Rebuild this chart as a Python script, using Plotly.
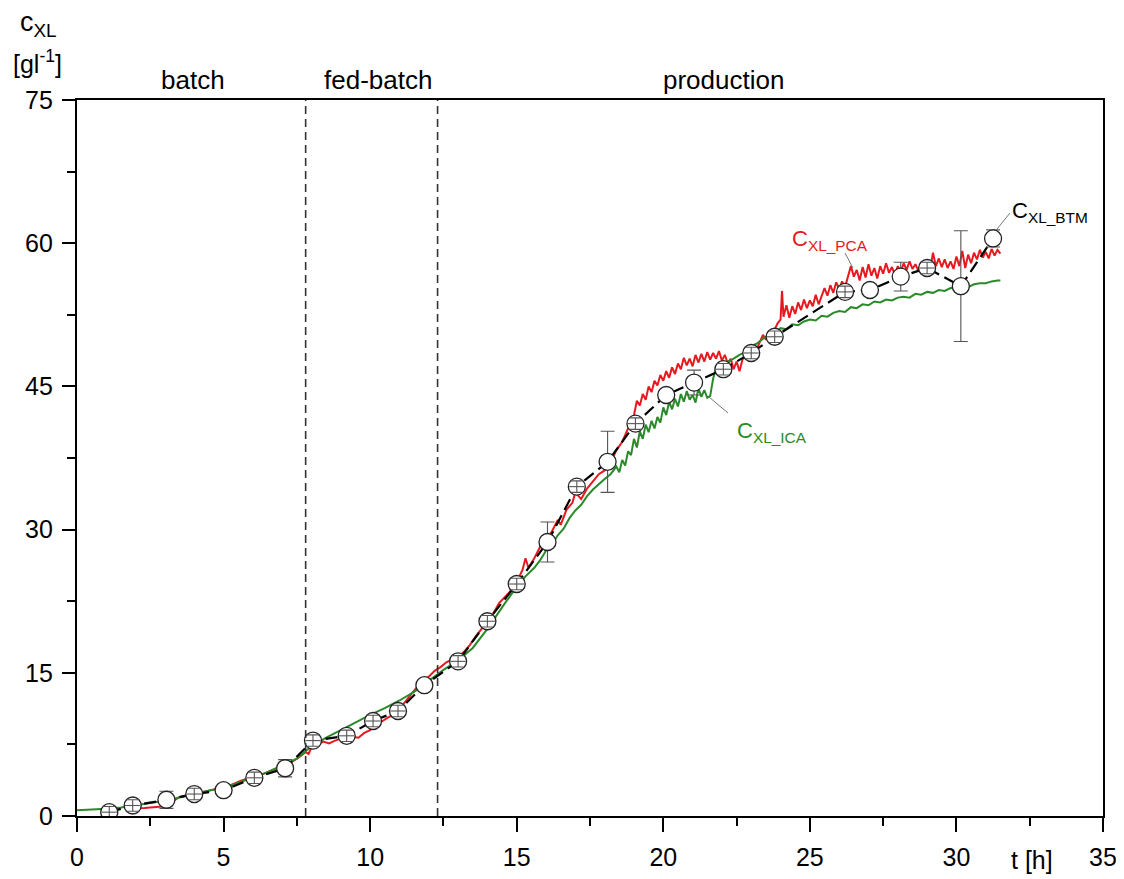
import plotly.graph_objects as go

# ---------------- data ----------------
btm_t = [1.1, 1.9, 3.05, 4.0, 5.0, 6.05, 7.1, 8.05, 9.2, 10.1, 10.95, 11.85, 13.0, 14.0, 15.0,
         16.05, 17.05, 18.1, 19.05, 20.1, 21.05, 22.05, 23.0, 23.8, 26.2, 27.05, 28.1, 29.0, 30.15, 31.25]
btm_y = [0.4, 1.1, 1.7, 2.3, 2.7, 4.0, 5.0, 7.9, 8.4, 9.95, 11.0, 13.7, 16.2, 20.4, 24.3,
         28.7, 34.5, 37.1, 41.1, 44.1, 45.4, 46.8, 48.5, 50.2, 54.9, 55.1, 56.5, 57.4, 55.5, 60.5]
btm_err = [0.6, 0.6, 0.9, 0.6, 0.0, 0.6, 0.9, 0.6, 0.6, 0.6, 0.6, 0.0, 0.6, 0.6, 0.6,
           2.1, 0.6, 3.2, 0.6, 0.0, 1.3, 0.6, 0.6, 0.6, 0.6, 0.0, 1.5, 0.6, 5.8, 0.9]

pca_t = [1.8, 2.0, 2.3, 2.6, 2.9, 3.2, 3.5, 3.8, 4.1, 4.4, 4.7, 5.0, 5.3, 5.6, 5.9, 6.2, 6.5, 6.8,
         7.1, 7.4, 7.6, 7.8, 7.9, 8.0, 8.2, 8.4, 8.6, 8.8, 9.0, 9.2, 9.4, 9.6, 9.8, 10.0, 10.2,
         10.4, 10.6, 10.8, 11.0, 11.2, 11.4, 11.6, 11.8, 12.0, 12.2, 12.4, 12.6, 12.8, 13.0, 13.2,
         13.4, 13.6, 13.8, 14.0, 14.2, 14.4, 14.6, 14.8, 15.0, 15.2, 15.3, 15.4, 15.6, 15.8, 16.0,
         16.2, 16.4, 16.5, 16.7, 16.9, 17.0, 17.2, 17.4, 17.6, 17.8, 18.0, 18.2, 18.4, 18.6, 18.8,
         19.0, 19.1, 19.2, 19.3, 19.4, 19.5, 19.6, 19.7, 19.8, 19.9, 20.0, 20.1, 20.2, 20.3, 20.4,
         20.5, 20.6, 20.7, 20.8, 20.9, 21.0, 21.1, 21.2, 21.3, 21.4, 21.5, 21.6, 21.7, 21.8, 21.9,
         22.0, 22.1, 22.2, 22.3, 22.4, 22.5, 22.6, 22.7, 22.8, 22.9, 23.0, 23.1, 23.2, 23.3, 23.4,
         23.5, 23.6, 23.7, 23.8, 23.9, 24.0, 24.05, 24.1, 24.2, 24.3, 24.4, 24.5, 24.6, 24.7, 24.8,
         24.9, 25.0, 25.1, 25.2, 25.3, 25.4, 25.5, 25.6, 25.7, 25.8, 25.9, 26.0, 26.1, 26.2, 26.3,
         26.4, 26.5, 26.6, 26.7, 26.8, 26.9, 27.0, 27.1, 27.2, 27.3, 27.4, 27.5, 27.6, 27.7, 27.8,
         27.9, 28.0, 28.1, 28.2, 28.3, 28.4, 28.5, 28.6, 28.7, 28.8, 28.9, 29.0, 29.1, 29.2, 29.3,
         29.4, 29.5, 29.6, 29.7, 29.8, 29.9, 30.0, 30.1, 30.2, 30.3, 30.4, 30.5, 30.6, 30.7, 30.8,
         30.9, 31.0, 31.1, 31.2, 31.3, 31.4, 31.5]
pca_y = [0.7, 0.8, 0.85, 0.9, 1.0, 1.4, 2.0, 2.2, 2.4, 2.6, 2.8, 3.0, 3.3, 3.7, 4.0, 4.2, 4.6, 5.0,
         5.4, 5.8, 6.2, 6.7, 6.5, 7.2, 7.5, 7.8, 7.6, 7.9, 8.1, 8.0, 8.3, 8.2, 8.7, 9.0, 9.6,
         9.9, 10.3, 10.6, 11.2, 12.0, 12.8, 13.6, 14.3, 14.6, 15.2, 15.6, 16.1, 16.4, 16.6, 17.2,
         17.9, 18.8, 19.6, 20.5, 21.2, 22.3, 22.9, 23.6, 24.5, 25.8, 27.0, 26.0, 27.0, 28.2, 29.0,
         29.8, 31.0, 30.5, 32.1, 32.8, 33.9, 33.2, 34.3, 35.1, 35.8, 36.2, 37.0, 38.3, 39.2, 40.6,
         42.0, 43.5, 43.0, 44.2, 43.6, 45.0, 44.4, 45.6, 45.1, 46.2, 45.6, 46.6, 45.9, 47.0, 46.3,
         47.4, 46.8, 48.0, 47.2, 47.9, 47.1, 48.3, 47.5, 48.4, 47.6, 48.6, 47.8, 48.5, 47.9, 48.7,
         47.7, 48.3, 47.4, 47.9, 46.8, 47.6, 46.6, 47.8, 48.4, 48.9, 48.6, 49.4, 49.0, 49.8, 50.4,
         49.9, 50.8, 50.3, 51.0, 51.6, 52.0, 55.0, 52.3, 53.5, 52.2, 53.4, 52.6, 53.8, 53.0, 54.1,
         53.2, 54.0, 53.4, 54.6, 53.6, 54.4, 55.3, 54.5, 55.6, 54.8, 55.9, 55.2, 56.0, 55.4, 56.6,
         57.6, 56.5, 57.2, 56.1, 57.5, 56.4, 57.8, 56.6, 57.4, 56.3, 57.6, 56.8, 57.9, 56.9, 57.5,
         56.7, 57.6, 57.0, 57.9, 57.2, 58.1, 57.3, 57.8, 57.1, 58.0, 57.4, 58.2, 57.2, 59.0, 57.6,
         58.4, 57.5, 58.3, 57.4, 58.1, 57.3, 58.6, 57.6, 59.2, 57.4, 58.8, 57.9, 59.0, 58.3, 59.3,
         58.5, 59.1, 58.4, 59.4, 58.7, 59.3, 58.9]

ica_t = [0.0, 0.5, 1.0, 1.5, 2.0, 2.5, 3.0, 3.5, 4.0, 4.5, 5.0, 5.5, 6.0, 6.5, 7.0, 7.5, 8.0, 8.5,
         9.0, 9.5, 10.0, 10.5, 11.0, 11.5, 12.0, 12.5, 13.0, 13.5, 14.0, 14.3, 14.6, 15.0, 15.3,
         15.6, 15.8, 16.0, 16.2, 16.4, 16.6, 16.8, 17.0, 17.2, 17.4, 17.6, 17.8, 18.0, 18.2, 18.4,
         18.5, 18.6, 18.7, 18.8, 18.9, 19.0, 19.1, 19.2, 19.3, 19.4, 19.5, 19.6, 19.7, 19.8, 19.9,
         20.0, 20.1, 20.2, 20.3, 20.4, 20.5, 20.6, 20.7, 20.8, 20.9, 21.0, 21.1, 21.2, 21.3, 21.4,
         21.5, 21.6, 21.7, 21.8, 21.9, 22.0, 22.2, 22.4, 22.6, 22.8, 23.0, 23.2, 23.4, 23.6, 23.8,
         24.0, 24.2, 24.4, 24.6, 24.8, 25.0, 25.2, 25.4, 25.6, 25.8, 26.0, 26.2, 26.4, 26.6, 26.8,
         27.0, 27.2, 27.4, 27.6, 27.8, 28.0, 28.2, 28.4, 28.6, 28.8, 29.0, 29.2, 29.4, 29.6, 29.8,
         30.0, 30.2, 30.4, 30.6, 30.8, 31.0, 31.2, 31.4, 31.5]
ica_y = [0.6, 0.65, 0.75, 0.9, 1.1, 1.35, 1.6, 1.95, 2.3, 2.7, 3.0, 3.5, 4.0, 4.6, 5.3, 6.0, 7.3, 8.2,
         9.0, 9.8, 10.6, 11.3, 12.1, 13.0, 14.2, 15.3, 16.3, 17.6, 19.6, 21.0, 22.3, 24.0, 25.1,
         26.0, 26.8, 27.8, 28.4, 29.4, 30.1, 31.2, 32.0, 32.6, 33.5, 34.2, 34.8, 35.3, 35.8, 36.6,
         36.0, 37.3, 36.7, 38.2, 37.8, 39.5, 38.6, 40.3, 39.5, 41.0, 40.2, 41.4, 40.6, 41.8, 41.2,
         42.8, 42.0, 43.4, 42.6, 43.7, 42.9, 44.2, 43.4, 44.5, 43.6, 44.1, 43.3, 44.8, 43.9, 44.6,
         43.8, 44.0, 45.8, 46.9, 47.5, 47.1, 47.6, 47.9, 48.3, 48.6, 49.2, 49.5, 50.0, 50.4, 50.6,
         51.1, 51.0, 51.5, 51.4, 51.8, 52.0, 51.9, 52.4, 52.3, 52.7, 52.9, 52.8, 53.3, 53.2, 53.6,
         53.5, 53.9, 53.8, 54.1, 54.0, 54.3, 54.4, 54.3, 54.7, 54.6, 54.9, 54.8, 55.1, 55.0, 55.3,
         55.3, 55.5, 55.4, 55.7, 55.8, 55.8, 56.0, 56.1, 56.1]

phase_bounds = [7.8, 12.3]
phase_names = ["batch", "fed-batch", "production"]
phase_centers = [3.96, 10.26, 22.05]

x_ticks = [0, 5, 10, 15, 20, 25, 30, 35]
y_ticks = [0, 15, 30, 45, 60, 75]

# ---------------- style ----------------
FONT = "Liberation Sans, Arial, sans-serif"
RED = "#e8191e"
GREEN = "#2a8a2a"
OFF = 8  # page body margin offset
W, H = 1124 - OFF, 879 - OFF
ML, MR, MT, MB = 77 - OFF, 21, 100 - OFF, 63
PW, PH = W - ML - MR, H - MT - MB


def px2paper(px, py):
    """page pixel -> paper coords"""
    fx, fy = px - OFF, py - OFF
    return (fx - ML) / PW, (H - MB - fy) / PH


fig = go.Figure()

fig.add_trace(go.Scatter(x=pca_t, y=pca_y, mode="lines", line=dict(color=RED, width=2),
                         showlegend=False, hoverinfo="skip"))
fig.add_trace(go.Scatter(x=ica_t, y=ica_y, mode="lines", line=dict(color=GREEN, width=2),
                         showlegend=False, hoverinfo="skip"))
fig.add_trace(go.Scatter(x=btm_t, y=btm_y, mode="lines",
                         line=dict(color="black", width=2.2, dash="12px,6px"),
                         showlegend=False, hoverinfo="skip"))

big = [e if e >= 0.85 else 0 for e in btm_err]
fig.add_trace(go.Scatter(
    x=btm_t, y=btm_y, mode="markers",
    marker=dict(symbol="circle", size=17, color="white", line=dict(color="#222", width=1.3)),
    error_y=dict(type="data", array=big, visible=True, color="#555", thickness=1.1, width=7),
    showlegend=False))

sm_t = [t for t, e in zip(btm_t, btm_err) if 0 < e < 0.85]
sm_y = [y for y, e in zip(btm_y, btm_err) if 0 < e < 0.85]
sm_e = [e for e in btm_err if 0 < e < 0.85]
fig.add_trace(go.Scatter(
    x=sm_t, y=sm_y, mode="markers",
    marker=dict(size=1, color="rgba(0,0,0,0)"),
    error_y=dict(type="data", array=sm_e, visible=True, color="#555", thickness=1.1, width=6),
    error_x=dict(type="constant", value=0.26, visible=True, color="#555", thickness=1.1, width=0),
    showlegend=False, hoverinfo="skip"))

for xb in phase_bounds:
    fig.add_shape(type="line", x0=xb, x1=xb, y0=0, y1=1, xref="x", yref="paper",
                  line=dict(color="#333", width=1.6, dash="8px,5px"))

annots = []
for name, xc in zip(phase_names, phase_centers):
    annots.append(dict(x=xc, y=px2paper(0, 80)[1], xref="x", yref="paper", text=name,
                       showarrow=False, font=dict(size=26, color="black", family=FONT),
                       xanchor="center", yanchor="middle"))

# axis titles
ax, ay = px2paper(38, 24)
annots.append(dict(x=ax, y=ay, xref="paper", yref="paper", text="c<sub>XL</sub>",
                   showarrow=False, font=dict(size=27, family=FONT, color="black"),
                   xanchor="center", yanchor="middle"))
ax, ay = px2paper(37, 62)
annots.append(dict(x=ax, y=ay, xref="paper", yref="paper", text="[gl<sup>-1</sup>]",
                   showarrow=False, font=dict(size=25, family=FONT, color="black"),
                   xanchor="center", yanchor="middle"))
ax, ay = px2paper(1032, 860)
annots.append(dict(x=ax, y=ay, xref="paper", yref="paper", text="t [h]",
                   showarrow=False, font=dict(size=25, family=FONT, color="black"),
                   xanchor="center", yanchor="middle"))

# series labels
labels = [("C<sub>XL_PCA</sub>", RED, 790, 240, (845, 253), (853, 268)),
          ("C<sub>XL_ICA</sub>", GREEN, 735, 432, (728, 413), (709, 397)),
          ("C<sub>XL_BTM</sub>", "black", 1010, 212, (1010, 213), (997, 229))]
for txt, col, lx, ly, p0, p1 in labels:
    ax, ay = px2paper(lx, ly)
    annots.append(dict(x=ax, y=ay, xref="paper", yref="paper", text=txt, showarrow=False,
                       font=dict(size=22, family=FONT, color=col), xanchor="left", yanchor="middle"))
    a0 = px2paper(*p0)
    a1 = px2paper(*p1)
    fig.add_shape(type="line", x0=a0[0], y0=a0[1], x1=a1[0], y1=a1[1], xref="paper", yref="paper",
                  line=dict(color="#777", width=1))

axis_common = dict(showline=True, linecolor="black", linewidth=2.2, mirror=True,
                   ticks="outside", tickcolor="black", tickwidth=2, showgrid=False,
                   zeroline=False, tickfont=dict(size=25, family=FONT, color="black"))

fig.update_xaxes(range=[0, 35], tickvals=x_ticks, ticklen=14, ticklabelstandoff=4,
                 minor=dict(dtick=2.5, ticks="outside", ticklen=8, tickwidth=2, tickcolor="black"),
                 **axis_common)
fig.update_yaxes(range=[0, 75], tickvals=y_ticks, ticklen=13, ticklabelstandoff=4,
                 minor=dict(dtick=7.5, ticks="outside", ticklen=8, tickwidth=2, tickcolor="black"),
                 **axis_common)

fig.update_layout(width=W, height=H, margin=dict(l=ML, r=MR, t=MT, b=MB, autoexpand=False),
                  plot_bgcolor="white", paper_bgcolor="white", annotations=annots,
                  showlegend=False, font=dict(family=FONT))

fig.write_html("out.html")
